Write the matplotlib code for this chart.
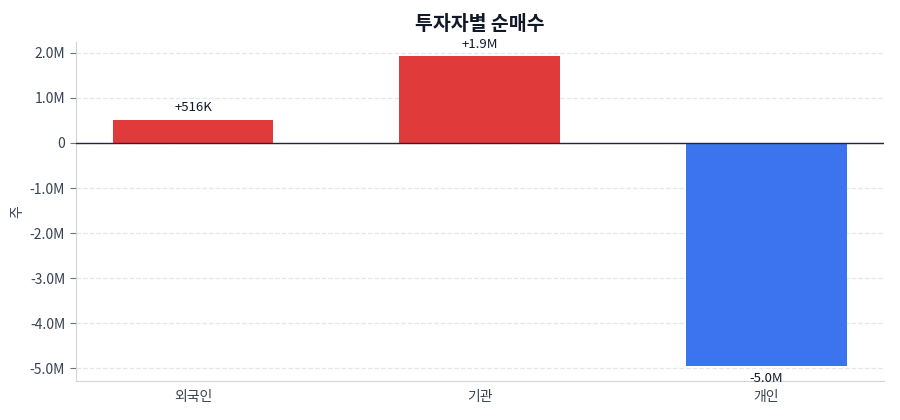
import matplotlib
matplotlib.use("Agg")
import matplotlib.pyplot as plt
from matplotlib.ticker import FuncFormatter

plt.rcParams['font.family'] = ['Noto Sans CJK KR', 'DejaVu Sans']
plt.rcParams['axes.unicode_minus'] = False

# data
investors = ['외국인', '기관', '개인']
net_buy = [516000, 1920000, -4950000]
value_labels = ['+516K', '+1.9M', '-5.0M']

RED = '#e03a3b'
BLUE = '#3b74ee'
TEXT = '#374151'


def fmt_m(v, _pos):
    if v == 0:
        return '0'
    return f'{v / 1e6:.1f}M'


fig, ax = plt.subplots(figsize=(9, 4.2), dpi=100)
fig.subplots_adjust(left=0.084, right=0.982, top=0.9, bottom=0.092)

colors = [RED if v >= 0 else BLUE for v in net_buy]
x = range(len(investors))
bars = ax.bar(x, net_buy, width=0.56, color=colors, zorder=3)

for b, v, lbl in zip(bars, net_buy, value_labels):
    cx = b.get_x() + b.get_width() / 2
    if v >= 0:
        ax.annotate(lbl, (cx, v), xytext=(0, 4), textcoords='offset points',
                    ha='center', va='bottom', fontsize=9.5, color='#111827')
    else:
        ax.annotate(lbl, (cx, v), xytext=(0, -4.5), textcoords='offset points',
                    ha='center', va='top', fontsize=9.5, color='#111827')

ax.axhline(0, color='#1f2937', linewidth=1, zorder=4)

ax.set_xlim(-0.41, 2.41)
ax.set_ylim(-5.29e6, 2.24e6)
ax.set_yticks([2e6, 1e6, 0, -1e6, -2e6, -3e6, -4e6, -5e6])
ax.yaxis.set_major_formatter(FuncFormatter(fmt_m))
ax.set_xticks(list(x))
ax.set_xticklabels(investors)

ax.grid(axis='y', linestyle='--', color='#e5e7eb', linewidth=0.9, zorder=0)
for s in ['top', 'right']:
    ax.spines[s].set_visible(False)
for s in ['left', 'bottom']:
    ax.spines[s].set_color('#d1d5db')
ax.tick_params(axis='y', colors='#6b7280', labelcolor=TEXT, labelsize=10, length=4)
ax.tick_params(axis='x', length=0, labelcolor=TEXT, labelsize=10, pad=6)

ax.set_ylabel('주', color=TEXT, fontsize=10)
ax.set_title('투자자별 순매수', fontsize=14, fontweight='bold', color='#111827', pad=9)

fig.savefig('out.png', dpi=100)
